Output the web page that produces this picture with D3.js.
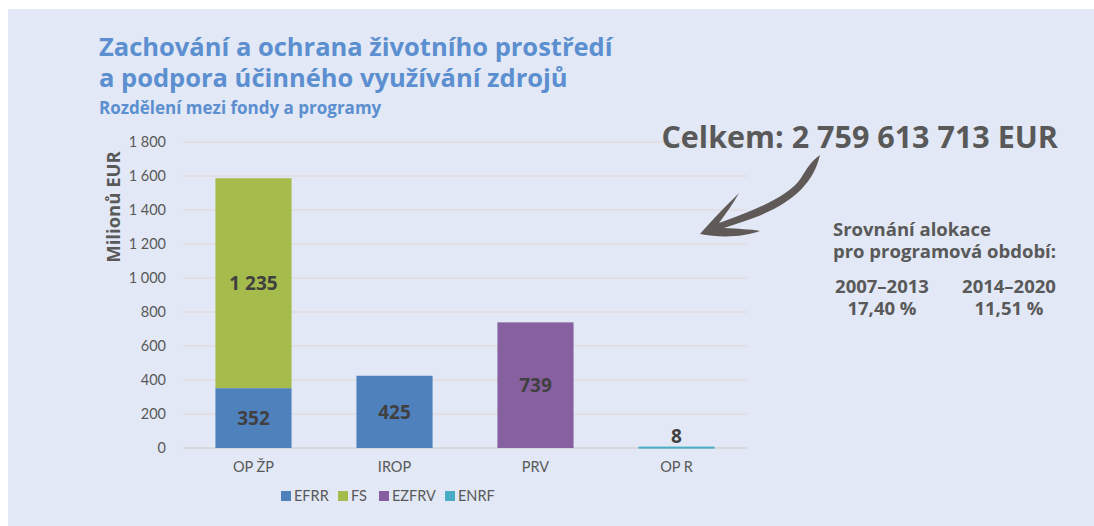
<!DOCTYPE html>
<html>
<head>
<meta charset="utf-8">
<script src="https://cdn.jsdelivr.net/npm/d3@7"></script>
<style>
  body { margin: 0; background: #fff; }
  svg { display: block; }
</style>
</head>
<body>
<svg id="chart" width="1094" height="526"></svg>
<script>
// data (millions EUR)
var categories = ["OP ŽP", "IROP", "PRV", "OP R"];
var funds = ["EFRR", "FS", "EZFRV", "ENRF"];
var efrr = [352, 425, 0, 0];
var fs = [1235, 0, 0, 0];
var ezfrv = [0, 0, 739, 0];
var enrf = [0, 0, 0, 8];
var yTicks = [0, 200, 400, 600, 800, 1000, 1200, 1400, 1600, 1800];
var fundColors = ["#4F81BD", "#A5BB4C", "#8760A0", "#4BACC6"];

var rows = categories.map(function(c, i) {
  return { cat: c, EFRR: efrr[i], FS: fs[i], EZFRV: ezfrv[i], ENRF: enrf[i] };
});

var svg = d3.select("#chart");

// panel background
svg.append("rect")
  .attr("x", 8).attr("y", 9)
  .attr("width", 1086).attr("height", 517)
  .attr("fill", "#E2E8F5");

var x = d3.scaleBand()
  .domain(categories)
  .range([183, 747])
  .paddingInner(0.46)
  .paddingOuter(0.23);

var y = d3.scaleLinear()
  .domain([0, 1800])
  .range([448, 142]);

var color = d3.scaleOrdinal().domain(funds).range(fundColors);

var fmt = function(v) { return d3.format(",")(v).replace(/,/g, " "); };

// gridlines
svg.append("g")
  .selectAll("line")
  .data(yTicks)
  .enter().append("line")
  .attr("x1", 183).attr("x2", 747)
  .attr("y1", function(d) { return y(d); })
  .attr("y2", function(d) { return y(d); })
  .attr("stroke", function(d) { return d === 0 ? "#D6D4D4" : "#E0DDDC"; })
  .attr("stroke-width", 1.5);

// y axis labels
var yAxis = d3.axisLeft(y)
  .tickValues(yTicks)
  .tickSize(0)
  .tickPadding(0)
  .tickFormat(fmt);

var gy = svg.append("g")
  .attr("transform", "translate(166,0)")
  .call(yAxis);
gy.select(".domain").remove();
gy.selectAll("text")
  .attr("font-family", "Lato, 'Open Sans', sans-serif")
  .attr("font-size", 14.5)
  .attr("fill", "#595959");

svg.append("text")
  .attr("transform", "translate(120,207) rotate(-90)")
  .attr("text-anchor", "middle")
  .attr("font-family", "'Open Sans', sans-serif")
  .attr("font-weight", "bold")
  .attr("font-size", 18.5)
  .attr("fill", "#595959")
  .text("Milionů EUR");

// stacked bars
var layers = d3.stack().keys(funds)(rows);

var layer = svg.selectAll(".layer")
  .data(layers)
  .enter().append("g")
  .attr("class", "layer")
  .attr("fill", function(d) { return color(d.key); });

layer.selectAll("rect")
  .data(function(d) { return d.filter(function(s) { return s[1] - s[0] > 0; }); })
  .enter().append("rect")
  .attr("x", function(d) { return x(d.data.cat); })
  .attr("y", function(d) { return y(d[1]); })
  .attr("width", x.bandwidth())
  .attr("height", function(d) { return Math.max(2, y(d[0]) - y(d[1])); });

// value labels
layer.selectAll("text")
  .data(function(d) { return d.filter(function(s) { return s[1] - s[0] > 0; }); })
  .enter().append("text")
  .attr("x", function(d) { return x(d.data.cat) + x.bandwidth() / 2; })
  .attr("y", function(d) {
    var h = y(d[0]) - y(d[1]);
    if (h < 20) return y(d[1]) - 4;
    return (y(d[0]) + y(d[1])) / 2 + 7;
  })
  .attr("text-anchor", "middle")
  .attr("font-family", "'Open Sans', sans-serif")
  .attr("font-weight", "bold")
  .attr("font-size", 19)
  .attr("fill", "#404040")
  .text(function(d) { return fmt(d[1] - d[0]); });

// x axis labels
var xAxis = d3.axisBottom(x).tickSize(0).tickPadding(0);
var gx = svg.append("g")
  .attr("transform", "translate(0,462)")
  .call(xAxis);
gx.select(".domain").remove();
gx.selectAll("text")
  .attr("font-family", "Lato, 'Open Sans', sans-serif")
  .attr("font-size", 14.5)
  .attr("fill", "#595959");

// legend
var legendX = [281, 338, 379, 445];
var legend = svg.selectAll(".legend")
  .data(funds)
  .enter().append("g")
  .attr("class", "legend")
  .attr("transform", function(d, i) { return "translate(" + legendX[i] + ",491)"; });
legend.append("rect")
  .attr("width", 10).attr("height", 10)
  .attr("fill", function(d) { return color(d); });
legend.append("text")
  .attr("x", 13).attr("y", 10)
  .attr("font-family", "Lato, 'Open Sans', sans-serif")
  .attr("font-size", 14.5)
  .attr("fill", "#595959")
  .text(function(d) { return d; });

// titles
var title = svg.append("g")
  .attr("font-family", "'Open Sans', sans-serif")
  .attr("font-weight", "bold")
  .attr("fill", "#5B8FD0");
title.append("text").attr("x", 99).attr("y", 56).attr("font-size", 25.5)
  .text("Zachování a ochrana životního prostředí");
title.append("text").attr("x", 99).attr("y", 87).attr("font-size", 25.5)
  .text("a podpora účinného využívání zdrojů");
title.append("text").attr("x", 99).attr("y", 114).attr("font-size", 17)
  .text("Rozdělení mezi fondy a programy");

// total + arrow
svg.append("text")
  .attr("x", 1058).attr("y", 148)
  .attr("text-anchor", "end")
  .attr("font-family", "'Open Sans', sans-serif")
  .attr("font-weight", "bold")
  .attr("font-size", 30.5)
  .attr("fill", "#595959")
  .text("Celkem: 2 759 613 713 EUR");

svg.append("path")
  .attr("d", "M820,155 C813,185 790,206 745,221 L724,228 C738,229 750,229 760,231 " +
             "C744,237 720,238 700,234 C712,220 727,205 739,193 C733,204 726,213 719,223 " +
             "C758,209 789,196 801,178 C806,170 811,161 820,155 Z")
  .attr("fill", "#5F5A58");

// comparison note
var note = svg.append("g")
  .attr("font-family", "'Open Sans', sans-serif")
  .attr("font-weight", "bold")
  .attr("font-size", 18.5)
  .attr("fill", "#595959");
note.append("text").attr("x", 833).attr("y", 236).text("Srovnání alokace");
note.append("text").attr("x", 833).attr("y", 258).text("pro programová období:");
var periods = ["2007–2013", "2014–2020"];
var shares = ["17,40 %", "11,51 %"];
var periodX = [882, 1009];
periods.forEach(function(p, i) {
  note.append("text").attr("x", periodX[i]).attr("y", 293).attr("text-anchor", "middle").text(p);
  note.append("text").attr("x", periodX[i]).attr("y", 315).attr("text-anchor", "middle").text(shares[i]);
});
</script>
</body>
</html>
